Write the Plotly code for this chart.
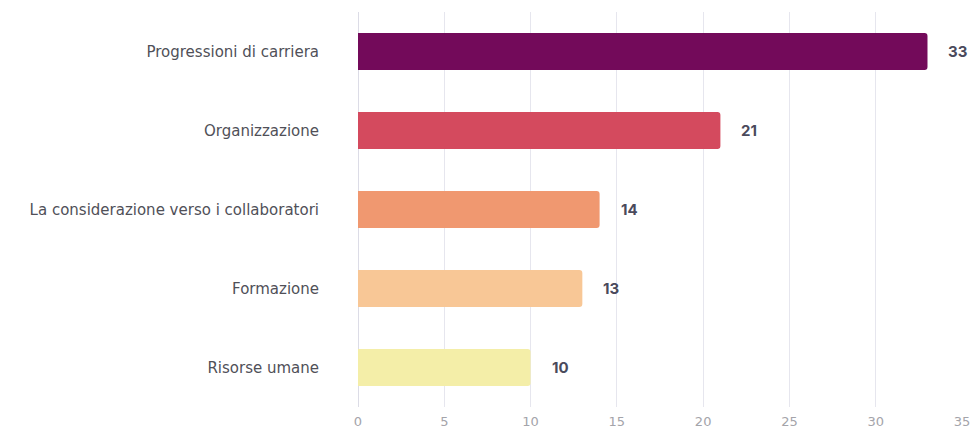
import plotly.graph_objects as go

categories = [
    "Progressioni di carriera",
    "Organizzazione",
    "La considerazione verso i collaboratori",
    "Formazione",
    "Risorse umane",
]
values = [33, 21, 14, 13, 10]
bar_colors = ["#730a5a", "#d44a5e", "#f09870", "#f8c796", "#f4eea8"]
x_ticks = [0, 5, 10, 15, 20, 25, 30, 35]

fig = go.Figure()
fig.add_trace(go.Bar(
    x=values,
    y=categories,
    orientation="h",
    marker=dict(color=bar_colors, line=dict(width=0), cornerradius=3),
    hoverinfo="x+y",
))

# value labels to the right of each bar
for cat, val in zip(categories, values):
    fig.add_annotation(
        x=val, y=cat, text=f"<b>{val}</b>", showarrow=False,
        xanchor="left", xshift=19,
        font=dict(family="Inter, sans-serif", size=15, color="#4a4a5c"),
    )

fig.update_layout(
    width=973, height=430,
    margin=dict(l=358, r=11, t=12, b=23),
    paper_bgcolor="white", plot_bgcolor="white",
    bargap=0.53,
    showlegend=False,
    xaxis=dict(
        range=[0, 35], tickvals=x_ticks, showgrid=True, automargin=False,
        gridcolor="#e6e6ee", gridwidth=1,
        zeroline=True, zerolinecolor="#dcdce6", zerolinewidth=1,
        tickfont=dict(family="DejaVu Sans, sans-serif", size=13, color="#a4a4aa"),
        ticks="", showline=False, ticklabelstandoff=5,
    ),
    yaxis=dict(
        categoryorder="array", categoryarray=categories[::-1],
        showgrid=False, ticks="", ticklabelstandoff=38, automargin=False,
        tickfont=dict(family="DejaVu Sans, sans-serif", size=15, color="#505058"),
    ),
)

fig.write_html("out.html")
